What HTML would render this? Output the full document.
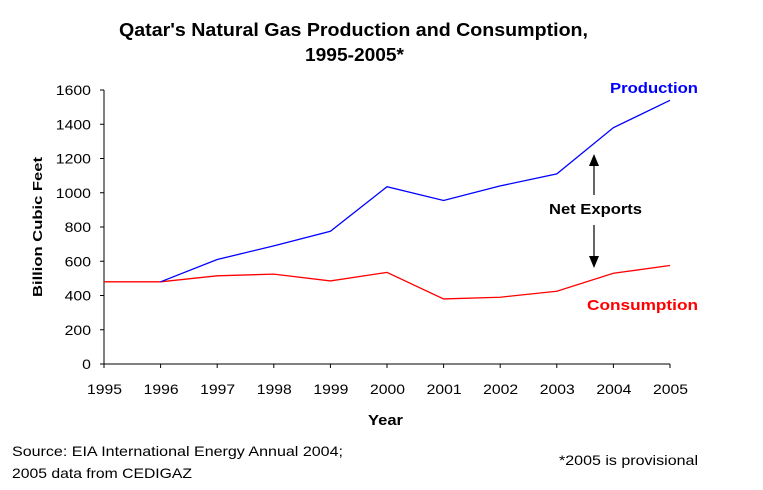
<!DOCTYPE html>
<html><head><meta charset="utf-8"><style>
html,body{margin:0;padding:0;background:#fff;}
svg{display:block;font-family:"Liberation Sans",Arial,sans-serif;}
</style></head><body>
<svg id="chart" width="763" height="490" viewBox="0 0 763 490">
<text x="119" y="36" font-size="18" font-weight="bold" textLength="469" lengthAdjust="spacingAndGlyphs">Qatar's Natural Gas Production and Consumption,</text>
<text x="305" y="61" font-size="18" font-weight="bold" textLength="99" lengthAdjust="spacingAndGlyphs">1995-2005*</text>
<g id="axes"></g>
<g id="series"></g>
<text x="42" y="227" text-anchor="middle" font-size="13" font-weight="bold" transform="rotate(-90 42 227)" textLength="140" lengthAdjust="spacingAndGlyphs">Billion Cubic Feet</text>
<text x="368" y="425" font-size="15" font-weight="bold" textLength="35" lengthAdjust="spacingAndGlyphs">Year</text>
<text x="610" y="93" font-size="15" font-weight="bold" fill="#0000ff" textLength="88" lengthAdjust="spacingAndGlyphs">Production</text>
<text x="587" y="310" font-size="15" font-weight="bold" fill="#ff0000" textLength="111" lengthAdjust="spacingAndGlyphs">Consumption</text>
<text x="549" y="214" font-size="15" font-weight="bold" textLength="93" lengthAdjust="spacingAndGlyphs">Net Exports</text>
<g><line x1="594" y1="195" x2="594" y2="162" stroke="#000" stroke-width="1.2"/><polygon points="589,166 599,166 594,154" fill="#000"/></g>
<g><line x1="594" y1="225" x2="594" y2="260" stroke="#000" stroke-width="1.2"/><polygon points="589,256 599,256 594,268" fill="#000"/></g>
<text x="12" y="456" font-size="14" textLength="331" lengthAdjust="spacingAndGlyphs">Source: EIA International Energy Annual 2004;</text>
<text x="12" y="478" font-size="14" textLength="180" lengthAdjust="spacingAndGlyphs">2005 data from CEDIGAZ</text>
<text x="559" y="465" font-size="14" textLength="139" lengthAdjust="spacingAndGlyphs">*2005 is provisional</text>
</svg>
<script>
const years = [1995,1996,1997,1998,1999,2000,2001,2002,2003,2004,2005];
const production = [null,480,610,690,775,1035,955,1040,1110,1380,1540];
const consumption = [480,480,515,525,485,535,380,390,425,530,575];
const yTicks = [0,200,400,600,800,1000,1200,1400,1600];
const NS="http://www.w3.org/2000/svg";
const x0=104,x1=670,y0=364,y1=90;
const xs=i=>x0+(x1-x0)*i/(years.length-1);
const ys=v=>y0-(y0-y1)*v/1600;
const axes=document.getElementById('axes'), series=document.getElementById('series');
function mk(t,a,p){const e=document.createElementNS(NS,t);for(const k in a)e.setAttribute(k,a[k]);p.appendChild(e);return e;}
const ya=mk('line',{x1:x0,y1:y0,x2:x0,y2:y1,stroke:'#000','stroke-width':1},axes);


const xa=mk('line',{x1:x0,y1:y0,x2:x1,y2:y0,stroke:'#000','stroke-width':1},axes);


yTicks.forEach(v=>{
  mk('line',{x1:x0-4,y1:ys(v),x2:x0,y2:ys(v),stroke:'#000'},axes);
  const s=String(v);
  const t=mk('text',{x:x0-13,y:ys(v)+5,'text-anchor':'end','font-size':14,textLength:s.length*8.8,lengthAdjust:'spacingAndGlyphs'},axes);
  t.textContent=s;
  
  
});
years.forEach((y,i)=>{
  mk('line',{x1:xs(i),y1:y0,x2:xs(i),y2:y0+4,stroke:'#000'},axes);
  const t=mk('text',{x:xs(i)-17,y:y0+30,'font-size':14,textLength:35,lengthAdjust:'spacingAndGlyphs'},axes);
  t.textContent=y;
  
  
});
function line(arr,color,name){
  const pts=[];arr.forEach((v,i)=>{if(v!==null)pts.push(xs(i)+','+ys(v));});
  const p=mk('polyline',{points:pts.join(' '),fill:'none',stroke:color,'stroke-width':1.3},series);
  
  
}
line(consumption,'#ff0000','consumption-line');
line(production,'#0000ff','production-line');
</script>
</body></html>
